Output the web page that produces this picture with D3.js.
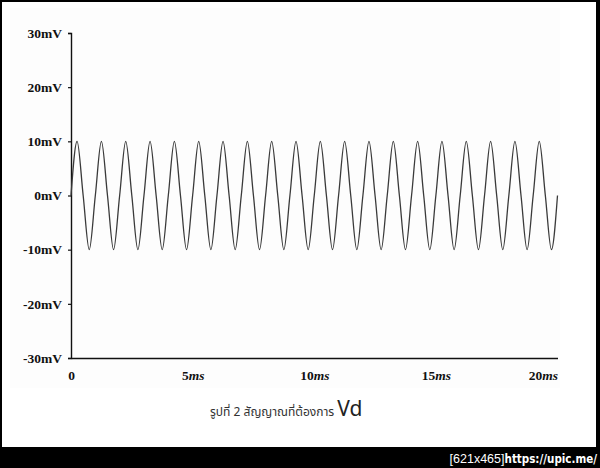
<!DOCTYPE html>
<html>
<head>
<meta charset="utf-8">
<script src="https://cdn.jsdelivr.net/npm/d3@7"></script>
<style>
  html, body { margin: 0; padding: 0; background: #000; }
  svg { display: block; }
</style>
</head>
<body>
<svg id="chart" width="600" height="468"></svg>
<script>
// ---- data ----
const yTickValues = [-30, -20, -10, 0, 10, 20, 30];
const yTickLabels = ["-30mV", "-20mV", "-10mV", "0mV", "10mV", "20mV", "30mV"];
const xTickValues = [0, 5, 10, 15, 20];
const xTickLabels = ["0", "5ms", "10ms", "15ms", "20ms"];
// samples of the signal at zero crossings, peaks and troughs (ms, mV)
const timeMs = [
  0, 0.25, 0.5, 0.75, 1, 1.25, 1.5, 1.75, 2, 2.25, 2.5, 2.75, 3, 3.25, 3.5, 3.75,
  4, 4.25, 4.5, 4.75, 5, 5.25, 5.5, 5.75, 6, 6.25, 6.5, 6.75, 7, 7.25, 7.5, 7.75,
  8, 8.25, 8.5, 8.75, 9, 9.25, 9.5, 9.75, 10, 10.25, 10.5, 10.75, 11, 11.25, 11.5, 11.75,
  12, 12.25, 12.5, 12.75, 13, 13.25, 13.5, 13.75, 14, 14.25, 14.5, 14.75, 15, 15.25, 15.5, 15.75,
  16, 16.25, 16.5, 16.75, 17, 17.25, 17.5, 17.75, 18, 18.25, 18.5, 18.75, 19, 19.25, 19.5, 19.75, 20
];
const voltageMv = [
  0, 10, 0, -10, 0, 10, 0, -10, 0, 10, 0, -10, 0, 10, 0, -10,
  0, 10, 0, -10, 0, 10, 0, -10, 0, 10, 0, -10, 0, 10, 0, -10,
  0, 10, 0, -10, 0, 10, 0, -10, 0, 10, 0, -10, 0, 10, 0, -10,
  0, 10, 0, -10, 0, 10, 0, -10, 0, 10, 0, -10, 0, 10, 0, -10,
  0, 10, 0, -10, 0, 10, 0, -10, 0, 10, 0, -10, 0, 10, 0, -10, 0
];
const caption = "รูปที่ 2 สัญญาณที่ต้องการ ";
const captionSuffix = "Vd";
const watermarkSize = "[621x465]";
const watermarkUrl = "https://upic.me/";

// ---- drawing ----
const svg = d3.select("#chart");

// white page inside the black frame
svg.append("rect").attr("x", 2).attr("y", 2).attr("width", 594).attr("height", 445).attr("fill", "#fff");
// faint textured chart area
svg.append("rect").attr("x", 10).attr("y", 8).attr("width", 550).attr("height", 380).attr("fill", "#fdfdfd");

const x = d3.scaleLinear().domain([0, 20]).range([71, 557.5]);
const y = d3.scaleLinear().domain([-30, 30]).range([358, 33]);

const serif = "'Liberation Serif', 'Times New Roman', serif";

// y axis
const yAxis = d3.axisLeft(y)
  .tickValues(yTickValues)
  .tickSize(3)
  .tickPadding(6)
  .tickFormat((d, i) => yTickLabels[i]);
const gy = svg.append("g").attr("transform", `translate(${x(0)},0)`).call(yAxis);
gy.select(".domain").attr("stroke", "#111").attr("stroke-width", 1.4);
gy.selectAll(".tick line").attr("stroke", "#111").attr("stroke-width", 1.2);
gy.selectAll(".tick text")
  .attr("font-family", serif).attr("font-weight", "bold").attr("font-size", 13.5).attr("fill", "#111");

// x axis
const xAxis = d3.axisBottom(x)
  .tickValues(xTickValues)
  .tickSize(0)
  .tickPadding(12)
  .tickFormat(() => "");
const gx = svg.append("g").attr("transform", `translate(0,${y(-30)})`).call(xAxis);
gx.select(".domain").attr("stroke", "#111").attr("stroke-width", 1.4);
gx.selectAll(".tick text").each(function(d, i) {
  const t = d3.select(this)
    .attr("font-family", serif).attr("font-weight", "bold").attr("font-size", 13.5).attr("fill", "#111")
    .attr("dy", "0.71em");
  const lab = xTickLabels[i];
  const num = lab.replace("ms", "");
  t.append("tspan").text(num);
  if (lab.endsWith("ms")) t.append("tspan").attr("font-style", "italic").text("ms");
  if (i === xTickLabels.length - 1) t.attr("text-anchor", "end");
});

// signal
const pts = timeMs.map((t, i) => [t, voltageMv[i]]);
const line = d3.line().x(d => x(d[0])).y(d => y(d[1])).curve(d3.curveMonotoneX);
svg.append("path").datum(pts)
  .attr("d", line)
  .attr("fill", "none")
  .attr("stroke", "#3a3a3a")
  .attr("stroke-width", 1.3);

// caption
const cap = svg.append("text")
  .attr("x", 210).attr("y", 416)
  .attr("font-family", "'Noto Sans Thai', 'Noto Sans', 'DejaVu Sans', sans-serif")
  .attr("font-size", 12).attr("fill", "#333");
cap.append("tspan").text(caption);
cap.append("tspan").attr("font-size", 21).attr("fill", "#222").text(captionSuffix);

// watermark in the bottom black band
const wm = svg.append("text")
  .attr("x", 597).attr("y", 463)
  .attr("text-anchor", "end")
  .attr("font-size", 12.5).attr("fill", "#fff");
wm.append("tspan").attr("font-family", "'Liberation Sans', sans-serif").text(watermarkSize);
wm.append("tspan").attr("font-family", "'DejaVu Sans Condensed', 'DejaVu Sans', sans-serif")
  .attr("font-weight", "bold").attr("font-size", 11.5).text(watermarkUrl);
</script>
</body>
</html>
